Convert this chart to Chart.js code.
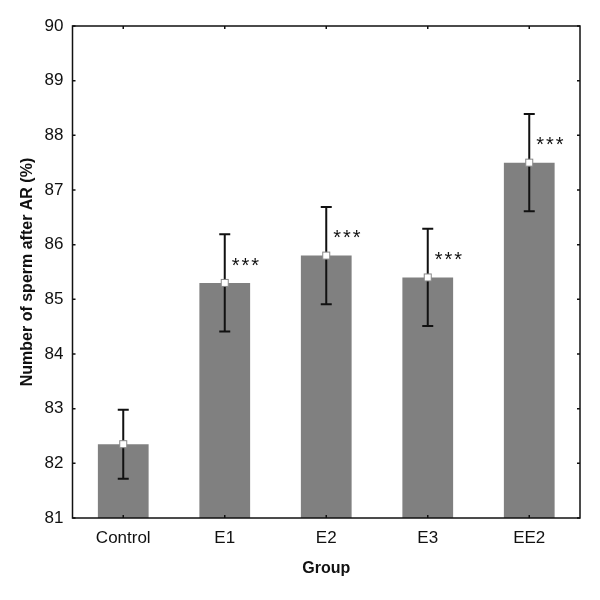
<!DOCTYPE html>
<html>
<head>
<meta charset="utf-8">
<script src="https://cdn.jsdelivr.net/npm/chart.js@4/dist/chart.umd.min.js"></script>
<style>
  html, body { margin: 0; padding: 0; background: #fff; }
  #wrap { width: 600px; height: 600px; }
</style>
</head>
<body>
<div id="wrap"><canvas id="c" width="600" height="600"></canvas></div>
<script>
const categories = ['Control', 'E1', 'E2', 'E3', 'EE2'];
const means = [82.35, 85.3, 85.8, 85.4, 87.5];
const errors = [0.63, 0.89, 0.89, 0.89, 0.89];
const significance = ['', '***', '***', '***', '***'];
const yTicks = [81, 82, 83, 84, 85, 86, 87, 88, 89, 90];
const yTitle = 'Number of sperm after AR (%)';
const xTitle = 'Group';

const FONT = "'Liberation Sans', Arial, Helvetica, sans-serif";

const overlay = {
  id: 'overlay',
  afterDatasetsDraw(chart) {
    const ctx = chart.ctx;
    const xs = chart.scales.x, ys = chart.scales.y;
    const a = chart.chartArea;
    ctx.save();
    // error bars
    ctx.strokeStyle = '#111';
    ctx.lineWidth = 2;
    means.forEach((m, i) => {
      const x = xs.getPixelForValue(i);
      const yt = ys.getPixelForValue(m + errors[i]);
      const yb = ys.getPixelForValue(m - errors[i]);
      const cap = 5.5;
      ctx.beginPath();
      ctx.moveTo(x, yt); ctx.lineTo(x, yb);
      ctx.moveTo(x - cap, yt); ctx.lineTo(x + cap, yt);
      ctx.moveTo(x - cap, yb); ctx.lineTo(x + cap, yb);
      ctx.stroke();
    });
    // mean markers
    means.forEach((m, i) => {
      const x = xs.getPixelForValue(i);
      const y = ys.getPixelForValue(m);
      ctx.fillStyle = '#fff';
      ctx.fillRect(x - 3.5, y - 3.5, 7, 7);
      ctx.strokeStyle = '#888';
      ctx.lineWidth = 1;
      ctx.strokeRect(x - 3.5, y - 3.5, 7, 7);
    });
    // significance asterisks
    ctx.fillStyle = '#111';
    ctx.font = '20px ' + FONT;
    ctx.textAlign = 'left';
    ctx.textBaseline = 'alphabetic';
    try { ctx.letterSpacing = '2px'; } catch (e) {}
    significance.forEach((s, i) => {
      if (!s) return;
      const x = xs.getPixelForValue(i) + 7;
      const y = ys.getPixelForValue(means[i] + 0.38);
      ctx.fillText(s, x, y + 9.5);
    });
    try { ctx.letterSpacing = '0px'; } catch (e) {}
    // frame
    ctx.strokeStyle = '#111';
    ctx.lineWidth = 1.5;
    ctx.strokeRect(a.left, a.top, a.right - a.left, a.bottom - a.top);
    // inward ticks
    ctx.lineWidth = 1.5;
    ctx.beginPath();
    const tl = 3;
    yTicks.forEach(v => {
      const y = ys.getPixelForValue(v);
      ctx.moveTo(a.left, y); ctx.lineTo(a.left + tl, y);
      ctx.moveTo(a.right, y); ctx.lineTo(a.right - tl, y);
    });
    categories.forEach((c, i) => {
      const x = xs.getPixelForValue(i);
      ctx.moveTo(x, a.bottom); ctx.lineTo(x, a.bottom - tl);
      ctx.moveTo(x, a.top); ctx.lineTo(x, a.top + tl);
    });
    ctx.stroke();
    ctx.restore();
  }
};

new Chart(document.getElementById('c'), {
  type: 'bar',
  data: {
    labels: categories,
    datasets: [{
      data: means,
      backgroundColor: '#808080',
      borderWidth: 0,
      barPercentage: 0.5,
      categoryPercentage: 1.0
    }]
  },
  options: {
    responsive: false,
    animation: false,
    devicePixelRatio: 1,
    layout: { padding: { top: 26, right: 20, left: 0, bottom: 0 } },
    plugins: { legend: { display: false }, tooltip: { enabled: false } },
    scales: {
      x: {
        grid: { display: false, drawTicks: false },
        border: { display: false },
        ticks: { color: '#111', font: { family: FONT, size: 17 }, padding: 10 },
        title: { display: true, text: xTitle, color: '#111',
                 font: { family: FONT, size: 16, weight: 'bold' },
                 padding: { top: 0, bottom: 22 } },
        afterFit(s) { s.height = 82; }
      },
      y: {
        min: 81, max: 90,
        grid: { display: false, drawTicks: false },
        border: { display: false },
        ticks: { color: '#111', font: { family: FONT, size: 17 }, padding: 9,
                 stepSize: 1, callback: (v) => yTicks.includes(v) ? String(v) : '' },
        title: { display: true, text: yTitle, color: '#111',
                 font: { family: FONT, size: 16, weight: 'bold' },
                 padding: { top: 18, bottom: 0 } },
        afterFit(s) { s.width = 72.5; }
      }
    }
  },
  plugins: [overlay]
});
</script>
</body>
</html>
